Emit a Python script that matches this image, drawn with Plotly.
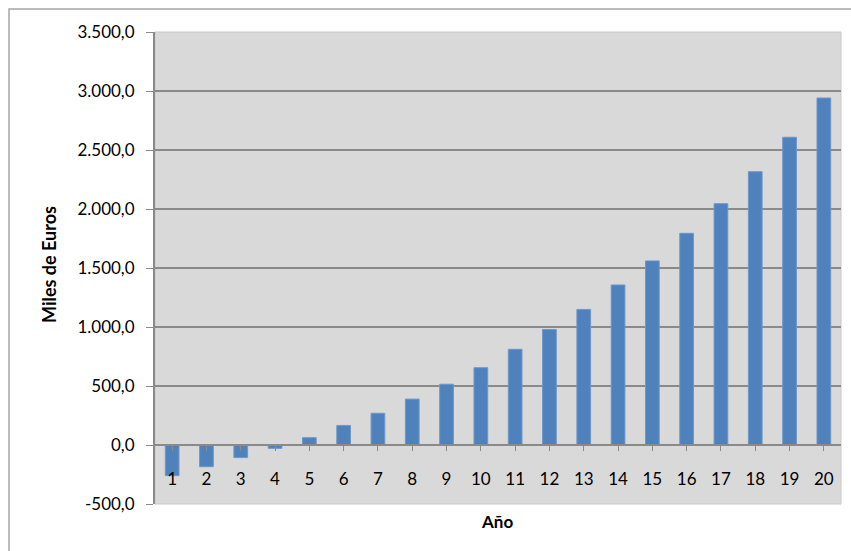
import plotly.graph_objects as go

# Annual values in thousands of euros
years = list(range(1, 21))
values = [-260, -184, -107, -28, 62, 166, 269, 389, 515, 655,
          811, 979, 1149, 1356, 1560, 1794, 2045, 2316, 2608, 2941]

y_ticks = [-500, 0, 500, 1000, 1500, 2000, 2500, 3000, 3500]


def es_format(v):
    # Spanish number style: "." for thousands, "," for decimals, ASCII hyphen
    s = f"{v:,.1f}"
    return s.replace(",", "X").replace(".", ",").replace("X", ".")


FONT = "Lato"
GRID = "#8a8a8a"

fig = go.Figure()
fig.add_trace(go.Bar(
    x=years, y=values, width=0.4,
    marker=dict(color="#4f81bd", line=dict(color="#6f97c8", width=1)),
))

L, R, T, B = 155, 10, 32, 47
W, H = 851, 551
pw, ph = W - L - R, H - T - B

fig.update_layout(
    width=W, height=H,
    margin=dict(l=L, r=R, t=T, b=B),
    paper_bgcolor="white",
    plot_bgcolor="#d9d9d9",
    showlegend=False,
    font=dict(family=FONT, size=17, color="#000000"),
    xaxis=dict(
        range=[0.5, 20.5], tickmode="array", tickvals=years,
        ticktext=[str(v) for v in years],
        anchor="free", position=500 / 4000,
        showline=True, linecolor=GRID, linewidth=2,
        ticks="outside", tickson="boundaries", ticklen=5, tickcolor=GRID,
        ticklabelstandoff=14,
        showgrid=False, zeroline=False,
        tickfont=dict(family=FONT, size=17),
    ),
    yaxis=dict(
        range=[-500, 3500], tickmode="array", tickvals=y_ticks,
        ticktext=[es_format(v) for v in y_ticks],
        showline=True, linecolor=GRID, linewidth=2,
        ticks="outside", ticklen=7, tickcolor=GRID,
        ticklabelstandoff=8,
        showgrid=True, gridcolor=GRID, gridwidth=1.5,
        zeroline=False,
        tickfont=dict(family=FONT, size=17),
    ),
    annotations=[
        dict(text="<b>Miles de Euros</b>", xref="paper", yref="paper",
             x=(49 - L) / pw, y=(H - B - 265) / ph, textangle=-90,
             xanchor="center", yanchor="middle",
             showarrow=False, font=dict(family=FONT, size=18)),
        dict(text="<b>Año</b>", xref="paper", yref="paper",
             x=(497 - L) / pw, y=(H - B - 521) / ph,
             xanchor="center", yanchor="middle", showarrow=False,
             font=dict(family=FONT, size=17)),
    ],
    shapes=[
        # outer chart frame
        dict(type="rect", xref="paper", yref="paper", layer="below",
             x0=(9 - L) / pw, x1=(W + 5 - L) / pw,
             y0=(H - B - (H + 5)) / ph, y1=(H - B - 9) / ph,
             line=dict(color="#a6a6a6", width=1.5)),
        # plot area edge
        dict(type="rect", xref="paper", yref="paper", layer="below",
             x0=0, x1=1, y0=0, y1=1,
             line=dict(color="#c8c8c8", width=1)),
    ],
)

fig.write_html("out.html")
